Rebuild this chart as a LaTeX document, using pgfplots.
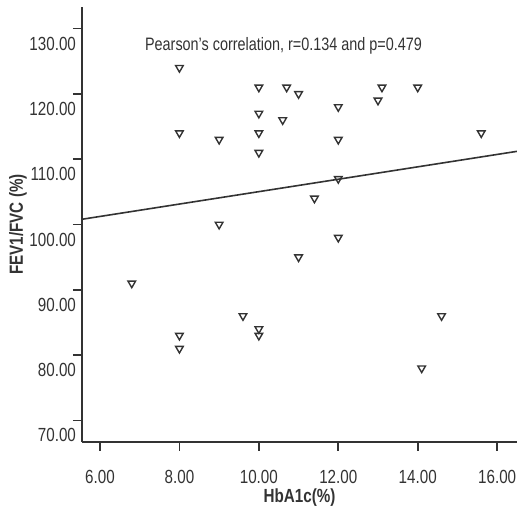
\documentclass[border=0pt]{standalone}
\usepackage{fontspec}
\setmainfont{Liberation Sans}[FakeStretch=0.8]
\usepackage{pgfplots}
\pgfplotsset{compat=1.18}
\definecolor{axisgray}{HTML}{333333}

\begin{document}
\begin{tikzpicture}
\begin{axis}[
  name=main,
  width=217.5pt, height=217.5pt,
  scale only axis,
  xmin=5.547, xmax=16.5,
  ymin=66.7, ymax=133.3,
  axis lines*=left,
  axis line style={axisgray, line width=0.9pt},
  tick style={axisgray, line width=0.9pt},
  tick align=outside,
  major tick length=4.5pt,
  xtick={6,8,10,12,14,16},
  ytick={70,80,90,100,110,120,130},
  xticklabels={6.00,8.00,10.00,12.00,14.00,16.00},
  yticklabels={70.00,80.00,90.00,100.00,110.00,120.00,130.00},
  ticklabel style={font=\fontsize{9.5}{10}\selectfont, text=axisgray},
  xticklabel style={yshift=-6pt},
  yticklabel style={yshift=-7.5pt, xshift=5pt},
  xlabel={\textbf{HbA1c(\%)}},
  ylabel={\textbf{FEV1/FVC (\%)}},
  xlabel style={at={(axis description cs:0.5,0)}, anchor=center, yshift=-28pt},
  ylabel style={at={(axis description cs:0,0.5)}, anchor=center, rotate=0, yshift=32pt},
  label style={font=\fontsize{9.5}{11}\selectfont, text=axisgray},
  clip=false,
]
\addplot[only marks, mark=triangle, mark size=2.2pt,
  mark options={rotate=180, fill=white, draw=axisgray, line width=0.7pt}]
  coordinates {
  (8,124) (10,121) (10.7,121) (11,120) (10,117) (10.6,116)
  (8,114) (9,113) (10,114) (10,111) (9,100) (12,118)
  (13.1,121) (14,121) (13,119) (15.6,114) (12,113) (12,107)
  (11.4,104) (12,98) (11,95) (6.8,91) (9.6,86) (10,84)
  (10,83) (8,83) (8,81) (14.6,86) (14.1,78)
  };
\addplot[axisgray, line width=0.8pt] coordinates {(5.547,100.8) (16.5,111.2)};
\node[font=\fontsize{9}{10}\selectfont, text=axisgray] at (axis cs:10.62,127.4) {Pearson's correlation, r=0.134 and p=0.479};
\end{axis}
\pgfresetboundingbox
\useasboundingbox ([shift={(-41pt,-34pt)}]main.south west) rectangle ([shift={(0pt,3.5pt)}]main.north east);
\end{tikzpicture}
\end{document}
